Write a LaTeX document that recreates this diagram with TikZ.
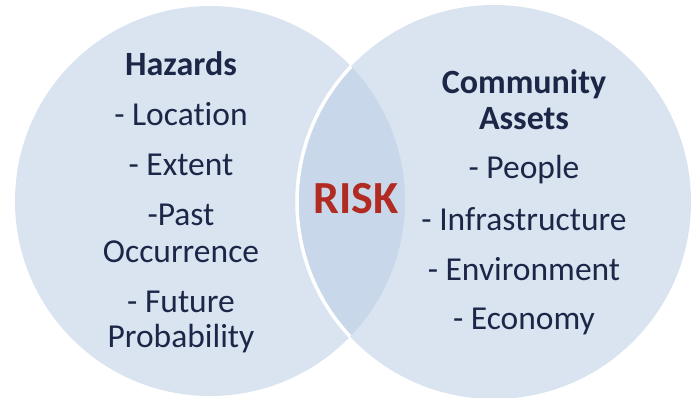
\documentclass[tikz,border=0pt]{standalone}
\usepackage{fontspec}
\setmainfont{Carlito}[Ligatures={NoCommon,NoRare,NoContextual}]
\definecolor{circfill}{HTML}{DAE3F0}
\definecolor{lensfill}{HTML}{C8D7EA}
\definecolor{navy}{HTML}{1C2747}
\definecolor{riskred}{HTML}{B12B22}
\tikzset{
  txt/.style={anchor=base, inner sep=0pt, text=navy, font=\fontsize{33.5}{38}\selectfont},
  head/.style={txt, font=\fontsize{34}{38}\selectfont\bfseries},
  riskstyle/.style={anchor=base, inner sep=0pt, text=riskred, font=\fontsize{46}{50}\selectfont\bfseries}
}
\begin{document}
\begin{tikzpicture}[x=1pt,y=-1pt]
\useasboundingbox (0,0) rectangle (698,397);
\coordinate (lc) at (210,201);
\coordinate (rc) at (494,202);
\fill[circfill] (lc) circle (195pt);
\fill[circfill] (rc) circle (197pt);
\begin{scope}
  \clip (lc) circle (195pt);
  \fill[lensfill] (rc) circle (197pt);
  \draw[white, line width=3.5pt] (rc) circle (197pt);
\end{scope}
% left texts
\node[head] (hz) at (181,75) {Hazards};
\node[txt] (loc) at (181,125) {- Location};
\node[txt] (ext) at (181,175) {- Extent};
\node[txt] (past) at (181,225) {-Past};
\node[txt] (occ) at (181,262) {Occurrence};
\node[txt] (fut) at (181,312) {- Future};
\node[txt] (prob) at (181,347) {Probability};
% right texts
\node[head] (comm) at (524,93) {Community};
\node[head] (ass) at (524,129) {Assets};
\node[txt] (peo) at (524,178) {- People};
\node[txt] (inf) at (524,230) {- Infrastructure};
\node[txt] (env) at (524,280) {- Environment};
\node[txt] (eco) at (524,329) {- Economy};
% center
\node[riskstyle] (risk) at (356,213) {RISK};
\end{tikzpicture}
\end{document}
